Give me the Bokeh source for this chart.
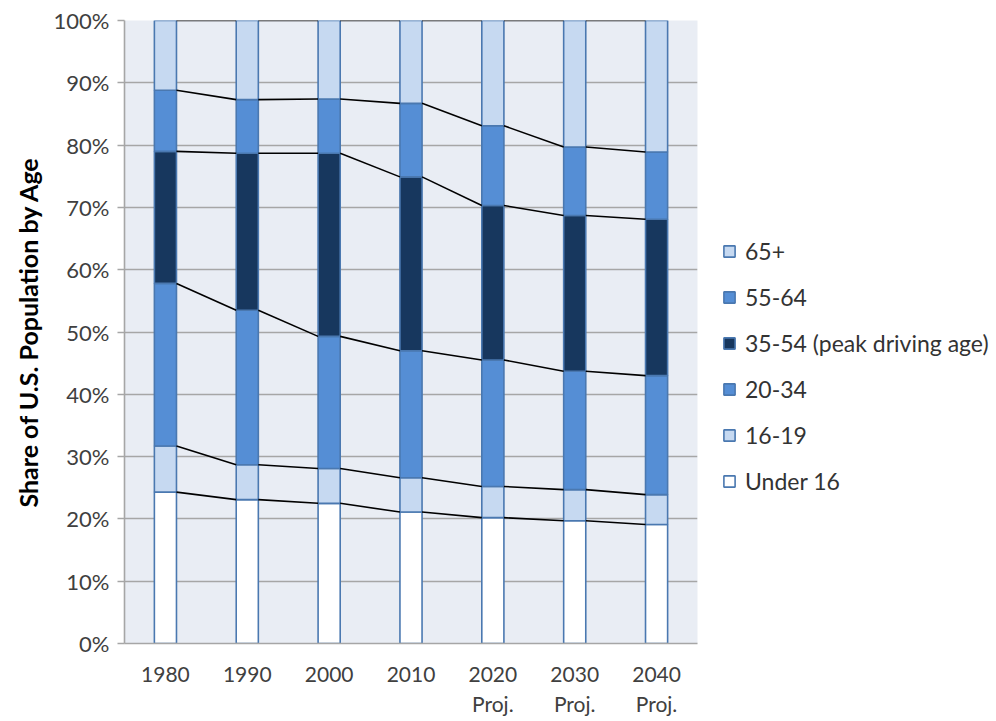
import numpy as np
from bokeh.plotting import figure
from bokeh.models import (ColumnDataSource, FixedTicker, PrintfTickFormatter,
                          Legend, LegendItem, Range1d)
from bokeh.embed import file_html
from bokeh.resources import INLINE

# ---- data (share of U.S. population by age, %) ----
years = ["1980", "1990", "2000", "2010", "2020", "2030", "2040"]
year_labels = ["1980", "1990", "2000", "2010", "2020\nProj.", "2030\nProj.", "2040\nProj."]
groups = ["Under 16", "16-19", "20-34", "35-54 (peak driving age)", "55-64", "65+"]
under16 = [24.3, 23.1, 22.5, 21.1, 20.2, 19.7, 19.1]
age16_19 = [7.4, 5.6, 5.6, 5.5, 5.0, 5.0, 4.8]
age20_34 = [26.1, 24.8, 21.2, 20.4, 20.3, 19.0, 19.1]
age35_54 = [21.2, 25.2, 29.4, 27.9, 24.8, 25.0, 25.1]
age55_64 = [9.8, 8.6, 8.7, 11.8, 12.8, 11.0, 10.8]
age65p = [11.2, 12.7, 12.6, 13.3, 16.9, 20.3, 21.1]

colors = ["#FFFFFF", "#C6D9F1", "#558ED5", "#17375E", "#558ED5", "#C6D9F1"]
outline = "#4A78B0"

series = [under16, age16_19, age20_34, age35_54, age55_64, age65p]
keys = ["u16", "a1619", "a2034", "a3554", "a5564", "a65"]
xs = list(range(len(years)))
data = {"x": xs}
for k, s in zip(keys, series):
    data[k] = s
source = ColumnDataSource(data)

BW = 0.27

p = figure(frame_width=573, frame_height=623, output_backend="svg",
           toolbar_location=None, x_range=Range1d(-0.5, 6.5),
           y_range=Range1d(0, 100),
           min_border_left=124, min_border_top=20, min_border_bottom=70,
           min_border_right=280)
p.background_fill_color = "#E9EDF4"
p.border_fill_color = "white"
p.outline_line_color = None

rends = p.vbar_stack(keys, x="x", width=BW, source=source, color=colors,
                     line_color=outline, line_width=1.6)
for r, c in zip(rends, colors):
    r.glyph.fill_color = c
    r.glyph.line_color = outline

# series lines connecting stack boundaries
cum = np.cumsum(np.array(series), axis=0)
x0, x1, y0, y1 = [], [], [], []
for row in cum:
    for i in range(len(years) - 1):
        x0.append(xs[i] + BW / 2)
        x1.append(xs[i + 1] - BW / 2)
        y0.append(row[i])
        y1.append(row[i + 1])
p.segment(x0=x0, y0=y0, x1=x1, y1=y1, line_color="black", line_width=1.6)

# axes
p.xgrid.grid_line_color = None
p.ygrid.grid_line_color = "#A6A6A6"
p.ygrid.grid_line_width = 1.6
p.ygrid.ticker = FixedTicker(ticks=list(range(0, 101, 10)))

p.yaxis.ticker = FixedTicker(ticks=list(range(0, 101, 10)))
p.yaxis.formatter = PrintfTickFormatter(format="%d%%")
p.yaxis.axis_label = "Share of U.S. Population by Age"
p.yaxis.axis_label_text_font = "Lato"
p.yaxis.axis_label_text_font_size = "25px"
p.yaxis.axis_label_text_font_style = "bold"
p.yaxis.axis_label_text_color = "#000000"
p.yaxis.axis_label_standoff = 8
p.yaxis.major_tick_out = 7
p.yaxis.major_tick_in = 0
p.yaxis.minor_tick_line_color = None
p.yaxis.major_tick_line_color = "#A6A6A6"
p.yaxis.major_tick_line_width = 1.6
p.yaxis.axis_line_color = "#A6A6A6"
p.yaxis.axis_line_width = 1.6
p.yaxis.major_label_text_font = "Lato"
p.yaxis.major_label_text_font_size = "22px"
p.yaxis.major_label_text_color = "#404040"
p.yaxis.major_label_standoff = 8

p.xaxis.ticker = FixedTicker(ticks=xs)
p.xaxis.major_label_overrides = {x: lab for x, lab in zip(xs, year_labels)}
p.xaxis.major_tick_line_color = None
p.xaxis.minor_tick_line_color = None
p.xaxis.axis_line_color = "#A6A6A6"
p.xaxis.axis_line_width = 1.6
p.xaxis.major_label_text_font = "Lato"
p.xaxis.major_label_text_font_size = "21px"
p.xaxis.major_label_text_color = "#404040"
p.xaxis.major_label_standoff = 11

items = [LegendItem(label=g, renderers=[r]) for g, r in zip(groups, rends)][::-1]
legend = Legend(items=items, location=(25, 148))
legend.label_text_font = "Lato"
legend.label_text_font_size = "23px"
legend.label_text_color = "#333333"
legend.glyph_width = 14
legend.glyph_height = 14
legend.label_standoff = 9
legend.label_height = 28
legend.spacing = 18
legend.padding = 0
legend.margin = 0
legend.border_line_color = None
legend.background_fill_alpha = 0
p.add_layout(legend, "right")

open("out.html", "w").write(file_html(p, INLINE))
